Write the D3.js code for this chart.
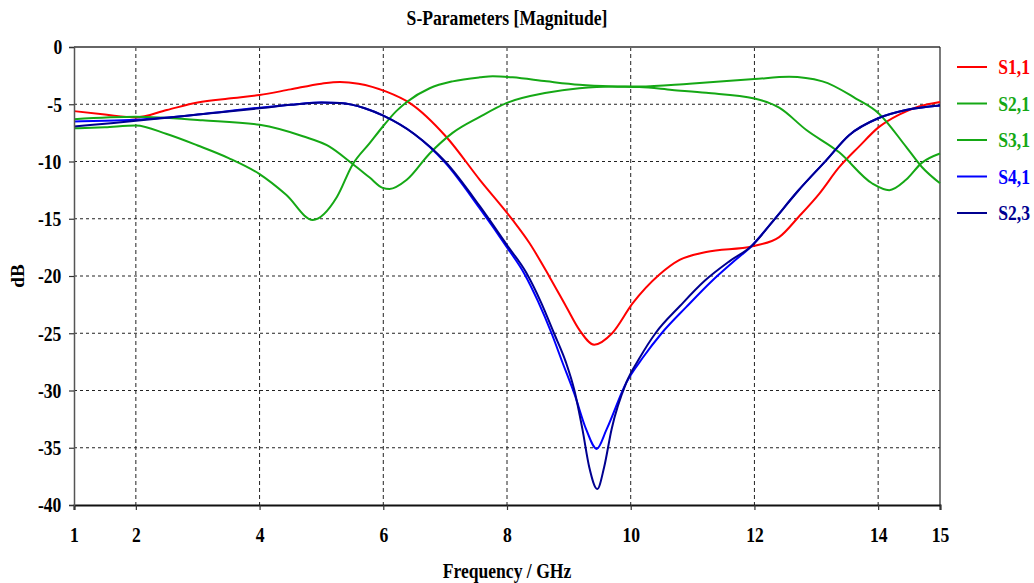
<!DOCTYPE html>
<html>
<head>
<meta charset="utf-8">
<script src="https://cdn.jsdelivr.net/npm/d3@7"></script>
<style>
  html, body { margin: 0; padding: 0; background: #fff; }
  svg { display: block; }
  .narrow {
    transform-box: fill-box;
    transform-origin: center;
    transform: scaleX(0.88);
  }
</style>
</head>
<body>
<svg id="chart" width="1034" height="583"></svg>
<script>
// Axis ticks
const xTicks = [1, 2, 4, 6, 8, 10, 12, 14, 15];
const yTicks = [0, -5, -10, -15, -20, -25, -30, -35, -40];

// Series: [frequency GHz, magnitude dB]
const s11 = [[1,-5.6],[1.5,-5.9],[2,-6.15],[2.5,-5.5],[3,-4.85],[3.5,-4.5],[4,-4.2],[4.5,-3.7],[5,-3.2],[5.3,-3.05],[5.6,-3.2],[6.05,-3.9],[6.43,-4.9],[7.02,-7.86],[7.56,-11.6],[8.09,-15.1],[8.36,-17.1],[8.69,-20.1],[8.96,-22.7],[9.17,-24.7],[9.41,-26.0],[9.7,-25.0],[10.03,-22.4],[10.46,-19.9],[10.79,-18.6],[11.22,-17.9],[11.97,-17.4],[12.4,-16.6],[12.72,-14.8],[13.05,-12.8],[13.37,-10.5],[13.69,-8.7],[14.01,-7.0],[14.34,-5.9],[14.66,-5.2],[15,-4.8]];

const s21 = [[1,-7.1],[1.5,-7.0],[2,-6.85],[2.5,-7.6],[3,-8.6],[3.5,-9.7],[4,-11.1],[4.43,-12.9],[4.86,-15.1],[5.25,-13.1],[5.5,-10.3],[5.78,-8.4],[6.0,-6.9],[6.21,-5.6],[6.38,-4.8],[6.75,-3.6],[7.12,-3.0],[7.56,-2.65],[7.77,-2.55],[8.09,-2.65],[8.64,-3.0],[9.17,-3.3],[9.7,-3.45],[10.14,-3.5],[10.67,-3.75],[11.22,-4.0],[12,-4.5],[12.4,-5.3],[12.84,-7.25],[13.37,-9.2],[13.9,-11.9],[14.18,-12.5],[14.45,-11.6],[14.71,-10.1],[15,-9.3]];

const s31 = [[1,-6.3],[2,-6.1],[3.08,-6.4],[4,-6.8],[4.7,-7.8],[5.13,-8.7],[5.5,-10.2],[5.78,-11.4],[5.99,-12.3],[6.1,-12.4],[6.38,-11.6],[6.75,-9.3],[7.12,-7.5],[7.56,-6.1],[7.99,-4.9],[8.64,-4.0],[9.17,-3.6],[9.7,-3.45],[10.14,-3.45],[10.95,-3.2],[12,-2.8],[12.56,-2.6],[13.1,-3.0],[13.64,-4.5],[14.01,-5.8],[14.45,-8.7],[14.71,-10.5],[15,-11.9]];

const s41 = [[1,-6.5],[1.5,-6.45],[2,-6.35],[3,-5.9],[4,-5.3],[4.5,-5.05],[5,-4.85],[5.3,-4.9],[5.7,-5.35],[6,-6.0],[6.5,-7.6],[7,-10.1],[7.56,-14.1],[8.0,-17.5],[8.28,-19.8],[8.5,-22.2],[8.72,-25.0],[8.9,-27.6],[9.09,-30.3],[9.28,-33.4],[9.45,-35.1],[9.61,-33.4],[9.93,-29.3],[10.2,-27.1],[10.5,-25.0],[10.9,-22.7],[11.3,-20.5],[11.65,-18.8],[11.95,-17.4],[12.3,-15.2],[12.7,-12.6],[13.16,-9.9],[13.53,-7.7],[14.01,-6.2],[14.45,-5.5],[15,-5.1]];

const s23 = [[1,-6.95],[1.5,-6.7],[2,-6.45],[3,-5.9],[4,-5.35],[4.5,-5.05],[5,-4.85],[5.3,-4.9],[5.7,-5.35],[6,-6.0],[6.5,-7.6],[7,-10.0],[7.56,-13.9],[8.0,-17.3],[8.31,-19.7],[8.55,-22.3],[8.76,-25.0],[8.95,-27.5],[9.09,-30.0],[9.22,-33.4],[9.33,-36.7],[9.46,-38.6],[9.57,-36.7],[9.69,-33.4],[9.93,-29.3],[10.15,-27.1],[10.4,-25.0],[10.8,-22.6],[11.2,-20.4],[11.6,-18.7],[11.95,-17.4],[12.3,-15.2],[12.7,-12.6],[13.16,-9.9],[13.53,-7.7],[14.01,-6.2],[14.45,-5.5],[15,-5.1]];

const seriesNames = ["S1,1", "S2,1", "S3,1", "S4,1", "S2,3"];
const seriesData = [s11, s21, s31, s41, s23];
const seriesColors = ["#ff0000", "#15a815", "#15a815", "#0000ff", "#000090"];

const FONT = "Liberation Serif";
const margin = { left: 74, right: 94, top: 47, bottom: 78 };
const W = 1034, H = 583;
const svg = d3.select("#chart");

const x = d3.scaleLinear().domain([1, 15]).range([margin.left, W - margin.right]);
const y = d3.scaleLinear().domain([-40, 0]).range([H - margin.bottom, margin.top]);

// Dashed grid
const grid = svg.append("g");
grid.selectAll("line.v")
  .data(xTicks.filter(d => d > 1 && d < 15))
  .join("line")
  .attr("x1", d => x(d)).attr("x2", d => x(d))
  .attr("y1", y(0)).attr("y2", y(-40))
  .attr("stroke", "#222").attr("stroke-width", 1)
  .attr("stroke-dasharray", "4,3");
grid.selectAll("line.h")
  .data(yTicks.filter(d => d < 0 && d > -40))
  .join("line")
  .attr("x1", x(1)).attr("x2", x(15))
  .attr("y1", d => y(d)).attr("y2", d => y(d))
  .attr("stroke", "#222").attr("stroke-width", 1)
  .attr("stroke-dasharray", "3,3");

// Frame: top and right edges
svg.append("line")
  .attr("x1", x(1)).attr("x2", x(15)).attr("y1", y(0)).attr("y2", y(0))
  .attr("stroke", "#666").attr("stroke-width", 2);
svg.append("line")
  .attr("x1", x(15)).attr("x2", x(15)).attr("y1", y(0)).attr("y2", y(-40))
  .attr("stroke", "#222").attr("stroke-width", 1.2);

// Curves
const line = d3.line()
  .x(d => x(d[0]))
  .y(d => y(d[1]))
  .curve(d3.curveMonotoneX);

svg.append("g").selectAll("path")
  .data(seriesData)
  .join("path")
  .attr("d", line)
  .attr("fill", "none")
  .attr("stroke", (d, i) => seriesColors[i])
  .attr("stroke-width", 2)
  .attr("stroke-linejoin", "round");

// Axes
const fmt = d => String(d);
const xAxis = svg.append("g")
  .attr("transform", `translate(0,${y(-40)})`)
  .call(d3.axisBottom(x).tickValues(xTicks).tickFormat(fmt).tickSizeOuter(0).tickSize(5).tickPadding(18));
const yAxis = svg.append("g")
  .attr("transform", `translate(${x(1)},0)`)
  .call(d3.axisLeft(y).tickValues(yTicks).tickFormat(fmt).tickSizeOuter(0).tickSize(5).tickPadding(6));

[xAxis, yAxis].forEach(a => {
  a.attr("font-family", FONT).attr("font-size", 20).attr("font-weight", "bold");
  a.selectAll(".tick line").attr("stroke", "#333").attr("stroke-width", 1.2);
  a.selectAll(".tick text")
    .attr("class", "narrow")
    .attr("font-family", FONT)
    .attr("font-weight", "bold")
    .attr("font-size", 20)
    .attr("fill", "#000");
});
xAxis.select(".domain").attr("stroke", "#111").attr("stroke-width", 2);
yAxis.select(".domain").attr("stroke", "#555").attr("stroke-width", 1.5);
yAxis.selectAll(".tick text").attr("dy", "0.34em");

// Title and axis labels
function label(sel) {
  return sel.attr("font-family", FONT).attr("font-weight", "bold").attr("font-size", 20);
}

label(svg.append("text"))
  .attr("class", "narrow")
  .attr("x", (x(1) + x(15)) / 2).attr("y", 25)
  .attr("text-anchor", "middle")
  .text("S-Parameters [Magnitude]");

label(svg.append("text"))
  .attr("class", "narrow")
  .attr("x", (x(1) + x(15)) / 2).attr("y", 578)
  .attr("text-anchor", "middle")
  .text("Frequency / GHz");

label(svg.append("g")
  .attr("transform", `translate(24,${(y(0) + y(-40)) / 2}) rotate(-90)`)
  .append("text"))
  .attr("font-size", 19)
  .attr("text-anchor", "middle")
  .text("dB");

// Legend
const legend = svg.append("g");
const legendY = d3.scaleLinear().domain([0, 4]).range([67, 213]);
seriesNames.forEach((name, i) => {
  const g = legend.append("g").attr("transform", `translate(0,${legendY(i)})`);
  g.append("line")
    .attr("x1", 957).attr("x2", 987)
    .attr("stroke", seriesColors[i]).attr("stroke-width", 2);
  label(g.append("text"))
    .attr("class", "narrow")
    .attr("x", 996).attr("y", 7)
    .attr("fill", seriesColors[i])
    .text(name);
});
</script>
</body>
</html>
